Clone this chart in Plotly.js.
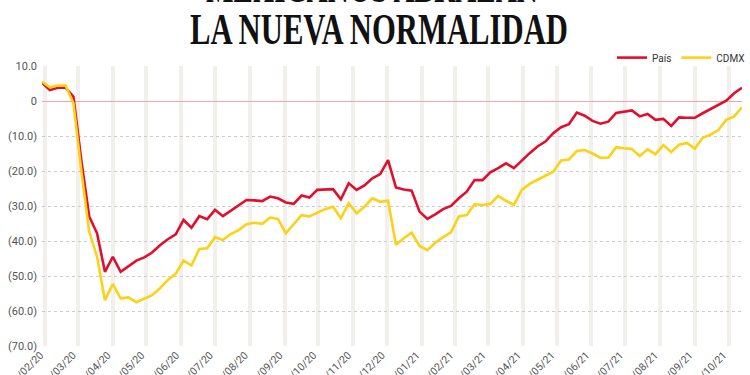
<!DOCTYPE html>
<html><head><meta charset="utf-8">
<script src="https://cdn.plot.ly/plotly-3.0.1.min.js"></script>
<style>
html,body{margin:0;padding:0;background:#fff;overflow:hidden;}
#wrap{width:750px;height:375px;overflow:hidden;position:relative;}
#chart{width:750px;height:400px;}
</style></head>
<body><div id="wrap"><div id="chart"></div></div>
<script>
const weeks = [
"2020-02-26","2020-03-04","2020-03-11","2020-03-18","2020-03-25","2020-04-01","2020-04-08","2020-04-15","2020-04-22","2020-04-29",
"2020-05-06","2020-05-13","2020-05-20","2020-05-27","2020-06-03","2020-06-10","2020-06-17","2020-06-24","2020-07-01","2020-07-08",
"2020-07-15","2020-07-22","2020-07-29","2020-08-05","2020-08-12","2020-08-19","2020-08-26","2020-09-02","2020-09-09","2020-09-16",
"2020-09-23","2020-09-30","2020-10-07","2020-10-14","2020-10-21","2020-10-28","2020-11-04","2020-11-11","2020-11-18","2020-11-25",
"2020-12-02","2020-12-09","2020-12-16","2020-12-23","2020-12-30","2021-01-06","2021-01-13","2021-01-20","2021-01-27","2021-02-03",
"2021-02-10","2021-02-17","2021-02-24","2021-03-03","2021-03-10","2021-03-17","2021-03-24","2021-03-31","2021-04-07","2021-04-14",
"2021-04-21","2021-04-28","2021-05-05","2021-05-12","2021-05-19","2021-05-26","2021-06-02","2021-06-09","2021-06-16","2021-06-23",
"2021-06-30","2021-07-07","2021-07-14","2021-07-21","2021-07-28","2021-08-04","2021-08-11","2021-08-18","2021-08-25","2021-09-01",
"2021-09-08","2021-09-15","2021-09-22","2021-09-29","2021-10-06","2021-10-13","2021-10-20","2021-10-27","2021-11-03","2021-11-10"
];
const pais = [
5.2,3.1,3.8,3.8,1.2,-17,-33.0,-37.8,-48.8,-44.5,
-48.8,-47.1,-45.6,-44.7,-43.3,-41.2,-39.5,-38.1,-34.0,-36.2,
-32.9,-33.8,-31.1,-32.9,-31.3,-29.7,-28.3,-28.4,-28.6,-27.3,
-27.8,-29.0,-29.4,-27.0,-27.6,-25.4,-25.4,-25.2,-28.1,-23.5,
-25.4,-24.1,-22.1,-20.9,-16.9,-24.7,-25.3,-25.6,-31.6,-33.7,
-32.4,-30.9,-30.0,-27.8,-25.9,-22.6,-22.6,-20.4,-19.2,-17.8,
-19.2,-16.9,-14.9,-13.0,-11.6,-9.2,-7.5,-6.6,-3.3,-4.2,
-5.7,-6.5,-5.9,-3.4,-3.1,-2.7,-4.4,-3.7,-5.4,-5.1,
-7.1,-4.7,-4.8,-4.8,-3.5,-2.3,-1.1,0.1,2.2,3.8
];
const cdmx = [
5.5,3.9,4.4,4.4,-0.7,-20,-37.3,-44.5,-56.9,-52.3,
-56.4,-56.1,-57.5,-56.4,-55.5,-53.5,-51.1,-49.4,-45.6,-47.0,
-42.3,-42.1,-38.9,-39.7,-38.0,-36.9,-35.2,-34.8,-35.1,-33.3,
-33.7,-37.8,-35.2,-32.6,-33.0,-31.9,-30.9,-30.2,-33.5,-29.2,
-32.1,-30.2,-27.8,-28.8,-28.5,-41.1,-39.2,-37.6,-41.4,-42.6,
-40.5,-38.9,-37.5,-33.0,-32.6,-29.5,-29.7,-29.4,-27.1,-28.5,
-29.7,-25.4,-23.7,-22.5,-21.4,-20.2,-17.0,-16.7,-14.3,-14.0,
-15.0,-16.2,-16.2,-13.2,-13.5,-13.7,-15.7,-13.8,-15.2,-12.6,
-14.6,-12.5,-12.0,-13.6,-10.5,-9.6,-8.3,-5.4,-4.4,-1.8
];
const tickDates = ["2020-02-29","2020-03-29","2020-04-29","2020-05-29","2020-06-29","2020-07-29","2020-08-29",
"2020-09-29","2020-10-29","2020-11-29","2020-12-29","2021-01-29","2021-02-28","2021-03-29","2021-04-29",
"2021-05-29","2021-06-29","2021-07-29","2021-08-29","2021-09-29","2021-10-29"];
const tickLabels = ["29/02/20","29/03/20","29/04/20","29/05/20","29/06/20","29/07/20","29/08/20",
"29/09/20","29/10/20","29/11/20","29/12/20","29/01/21","28/02/21","29/03/21","29/04/21",
"29/05/21","29/06/21","29/07/21","29/08/21","29/09/21","29/10/21"];
const yTickVals = [10,0,-10,-20,-30,-40,-50,-60,-70];
const yTickLabels = ["10.0","0","(10.0)","(20.0)","(30.0)","(40.0)","(50.0)","(60.0)","(70.0)"];
const seriesNames = ["País","CDMX"];
const titleLines = ["MEXICANOS ABRAZAN","LA NUEVA NORMALIDAD"];

const RED = "#e30d2d", YEL = "#fcd116";
const traces = [
  {x: weeks, y: pais, name: seriesNames[0], type: "scatter", mode: "lines",
   line: {color: RED, width: 2.6}},
  {x: weeks, y: cdmx, name: seriesNames[1], type: "scatter", mode: "lines",
   line: {color: YEL, width: 2.6}}
];
const layout = {
  width: 750, height: 400,
  margin: {l: 42, r: 0, t: 66, b: 54, pad: 0},
  paper_bgcolor: "#fff", plot_bgcolor: "#fff",
  font: {family: "Roboto, sans-serif", color: "#555", size: 11},
  showlegend: true,
  legend: {orientation: "h", x: 1.012, xanchor: "right", y: 1.03, yanchor: "middle",
           font: {size: 10, color: "#333"}, itemwidth: 30, bgcolor: "rgba(0,0,0,0)"},
  xaxis: {type: "date", range: [weeks[0], weeks[weeks.length-1]],
          tickmode: "array", tickvals: tickDates, ticktext: tickLabels,
          tickangle: -45, tickfont: {size: 10.5, color: "#555"}, ticklabelshift: -5,
          showgrid: true, gridcolor: "#f1f0ec", gridwidth: 4,
          showline: false, zeroline: false, ticks: ""},
  yaxis: {range: [-70, 10], tickmode: "array", tickvals: yTickVals, ticktext: yTickLabels,
          tickfont: {size: 11, color: "#555"},
          showgrid: true, gridcolor: "#cccccc", gridwidth: 1, griddash: "dot",
          zeroline: true, zerolinecolor: "#f5a5aa", zerolinewidth: 1,
          showline: false, ticks: "", ticklabelstandoff: 4},
  annotations: [
    {text: titleLines[0], xref: "paper", yref: "paper", x: 0.472, y: 1.28,
     xanchor: "center", yanchor: "middle", showarrow: false,
     font: {family: "Liberation Serif, serif", size: 44, weight: 700, color: "#111"}},
    {text: titleLines[1], xref: "paper", yref: "paper", x: 0.4816, y: 1.1286,
     xanchor: "center", yanchor: "middle", showarrow: false,
     font: {family: "Liberation Serif, serif", size: 44, weight: 700, color: "#111"}}
  ]
};
const lengths = [332, 378];
Plotly.newPlot("chart", traces, layout, {displayModeBar: false, staticPlot: true}).then(function(gd){
  const texts = gd.querySelectorAll(".annotation-text");
  texts.forEach(function(t, i){
    t.setAttribute("textLength", lengths[i]);
    t.setAttribute("lengthAdjust", "spacingAndGlyphs");
  });
});
</script>
</body></html>
